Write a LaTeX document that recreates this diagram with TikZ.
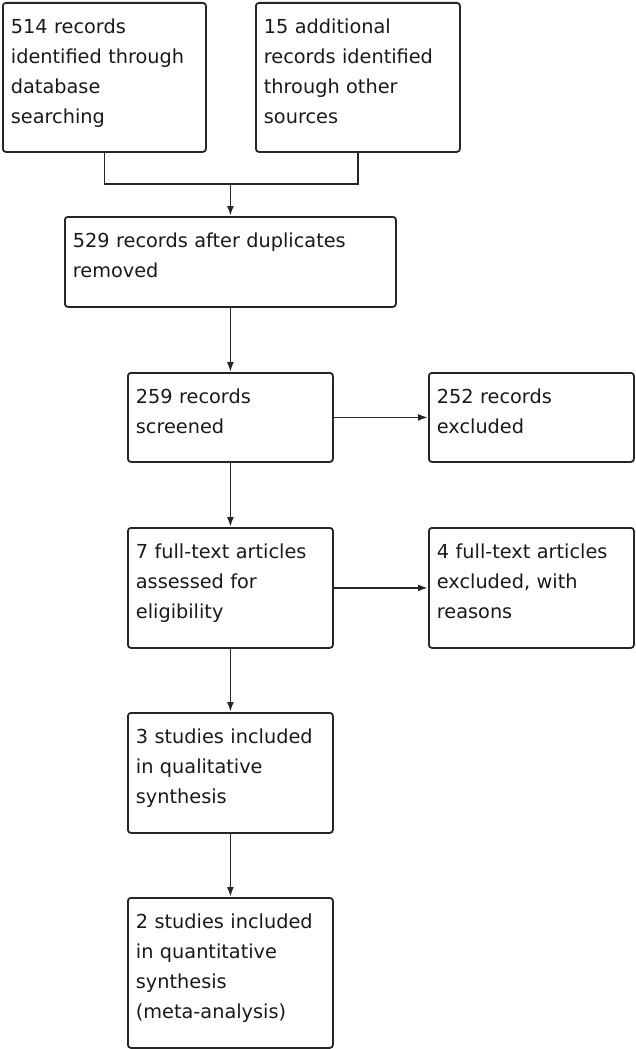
\documentclass[tikz,border=0pt]{standalone}
\usepackage{fontspec}
\setmainfont{DejaVu Sans}
\usetikzlibrary{arrows.meta}

\tikzset{
    flowbox/.style={draw=black!85, line width=1.8pt, rounded corners=3pt, anchor=north west,
        align=left, inner xsep=8pt, inner ysep=0pt, text height=31pt,
        font=\fontsize{19.3}{30}\selectfont, text=black!90},
    flowline/.style={draw=black!85, line width=1.8pt},
    flowarrow/.style={flowline, -{Latex[length=10pt,width=7pt]}}
}

\begin{document}
\begin{tikzpicture}[x=1pt, y=-1pt]
    \useasboundingbox (0,0) rectangle (635,1049);
    % identification
    \node[flowbox, text width=187pt, text depth=118pt] (database) at (2,2)
        {514 records\\identified through\\database\\searching};
    \node[flowbox, text width=188pt, text depth=118pt] (othersrc) at (255,2)
        {15 additional\\records identified\\through other\\sources};
    \node[flowbox, text width=315pt, text depth=59pt] (nodups) at (64,216)
        {529 records after duplicates\\removed};
    % screening
    \node[flowbox, text width=189pt, text depth=58pt] (screened) at (127,372)
        {259 records\\screened};
    \node[flowbox, text width=189pt, text depth=58pt] (excluded) at (428,372)
        {252 records\\excluded};
    % eligibility
    \node[flowbox, text width=189pt, text depth=89pt] (fulltext) at (127,527)
        {7 full-text articles\\assessed for\\eligibility};
    \node[flowbox, text width=189pt, text depth=89pt] (ftexcl) at (428,527)
        {4 full-text articles\\excluded, with\\reasons};
    % included
    \node[flowbox, text width=189pt, text depth=89pt] (qualit) at (127,712)
        {3 studies included\\in qualitative\\synthesis};
    \node[flowbox, text width=189pt, text depth=119pt] (quantit) at (127,897)
        {2 studies included\\in quantitative\\synthesis\\(meta-analysis)};

    \coordinate (merge) at (nodups.north |- 0,184);
    \draw[flowline] (database.south) |- (merge) -| (othersrc.south);
    \draw[flowarrow] (merge) -- (nodups.north);
    \draw[flowarrow] (nodups.south) -- (screened.north);
    \draw[flowarrow] (screened.east) -- (excluded.west);
    \draw[flowarrow] (screened.south) -- (fulltext.north);
    \draw[flowarrow] (fulltext.east) -- (ftexcl.west);
    \draw[flowarrow] (fulltext.south) -- (qualit.north);
    \draw[flowarrow] (qualit.south) -- (quantit.north);
\end{tikzpicture}
\end{document}
